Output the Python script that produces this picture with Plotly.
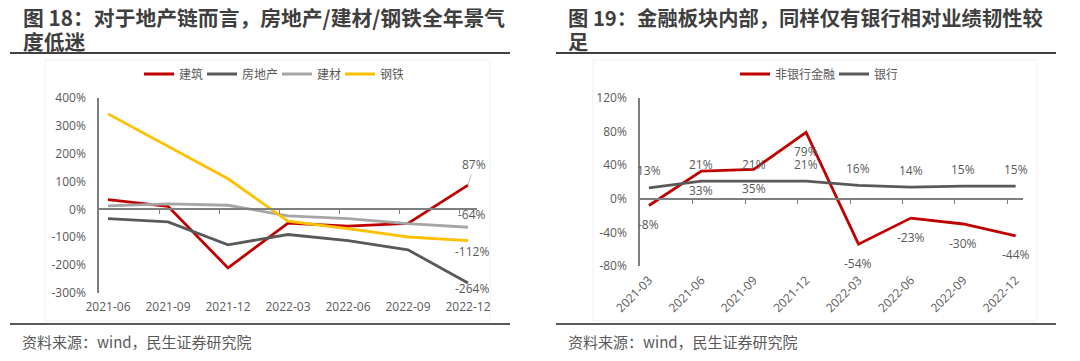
import plotly.graph_objects as go

W, H = 1080, 361

# ---------------- data ----------------
left_dates = ["2021-06", "2021-09", "2021-12", "2022-03", "2022-06", "2022-09", "2022-12"]
jianzhu = [35, 11, -210, -49, -60, -50, 87]          # 建筑
fangdichan = [-33, -45, -127, -90, -112, -145, -264]  # 房地产
jiancai = [13, 20, 15, -23, -33, -51, -64]            # 建材
gangtie = [343, 226, 110, -42, -69, -99, -112]        # 钢铁
left_yticks = [400, 300, 200, 100, 0, -100, -200, -300]

right_dates = ["2021-03", "2021-06", "2021-09", "2021-12", "2022-03", "2022-06", "2022-09", "2022-12"]
feiyin = [-8, 33, 35, 79, -54, -23, -30, -44]   # 非银行金融
yinhang = [13, 21, 21, 21, 16, 14, 15, 15]      # 银行
right_yticks = [120, 80, 40, 0, -40, -80]

RED, DARK, LIGHT, YELLOW = "#C00000", "#595959", "#A6A6A6", "#FFC000"
TXT = "#595959"
FONT = "Open Sans, Noto Sans CJK SC, sans-serif"
CJK = "Noto Sans CJK SC, sans-serif"
LEG_FS = 12

def px(x):
    return x / W

def py(y):
    return 1 - y / H

lx = list(range(len(left_dates)))
rx = list(range(len(right_dates)))

L_xdom = [px(99), px(477)]
L_ydom = [py(293), py(98)]
R_xdom = [px(640), px(1023)]
R_ydom = [py(266), py(98)]
L_xr = [-0.15, len(lx) - 1 + 0.15]
R_xr = [-0.17, len(rx) - 1 + 0.14]
L_yr = [min(left_yticks), max(left_yticks)]
R_yr = [min(right_yticks), max(right_yticks)]

fig = go.Figure()
lw = 2.8
for name, vals, col in [("建筑", jianzhu, RED), ("房地产", fangdichan, DARK),
                        ("建材", jiancai, LIGHT), ("钢铁", gangtie, YELLOW)]:
    fig.add_trace(go.Scatter(x=lx, y=vals, mode="lines", name=name,
                             line=dict(color=col, width=lw), xaxis="x", yaxis="y",
                             legend="legend", legendwidth=LEG_FS * len(name) - 6,
                             hoverinfo="skip"))
for name, vals, col in [("非银行金融", feiyin, RED), ("银行", yinhang, DARK)]:
    fig.add_trace(go.Scatter(x=rx, y=vals, mode="lines", name=name,
                             line=dict(color=col, width=lw), xaxis="x2", yaxis="y2",
                             legend="legend2", legendwidth=LEG_FS * len(name) - 6,
                             hoverinfo="skip"))
# dummy traces to render zero-line tick axes
fig.add_trace(go.Scatter(x=[None], y=[None], xaxis="x3", yaxis="y", showlegend=False, hoverinfo="skip"))
fig.add_trace(go.Scatter(x=[None], y=[None], xaxis="x4", yaxis="y2", showlegend=False, hoverinfo="skip"))

def zero_pos(dom, yr):
    return dom[0] + (0 - yr[0]) / (yr[1] - yr[0]) * (dom[1] - dom[0])

tickfont = dict(family=FONT, size=12, color=TXT)
axcol = "#7F7F7F"

fig.update_layout(
    width=W, height=H, margin=dict(l=0, r=0, t=0, b=0, autoexpand=False),
    paper_bgcolor="white", plot_bgcolor="white",
    font=dict(family=FONT, color=TXT),
    xaxis=dict(domain=L_xdom, range=L_xr, tickvals=lx, ticktext=left_dates, showgrid=False,
               zeroline=False, showline=False, ticks="", tickfont=tickfont, ticklabelstandoff=5,
               anchor="y", automargin=False),
    yaxis=dict(domain=L_ydom, range=L_yr, tickvals=left_yticks,
               ticktext=[f"{v}%" for v in left_yticks], showgrid=False, zeroline=False,
               showline=True, linecolor=axcol, linewidth=1.5, ticks="", tickfont=tickfont,
               ticklabelstandoff=9, anchor="x", automargin=False),
    xaxis3=dict(overlaying="x", anchor="free", position=zero_pos(L_ydom, L_yr), range=L_xr,
                tickvals=[i + 0.85 for i in lx[:-1]], showticklabels=False, ticks="outside",
                ticklen=4, tickcolor=axcol, tickwidth=1.2, showline=True, linecolor=axcol,
                linewidth=1.5, showgrid=False, zeroline=False, automargin=False),
    xaxis2=dict(domain=R_xdom, range=R_xr, tickvals=rx, ticktext=right_dates, showgrid=False,
                zeroline=False, showline=False, ticks="", tickangle=-45, tickfont=tickfont,
                ticklabelstandoff=4, anchor="y2", automargin=False),
    yaxis2=dict(domain=R_ydom, range=R_yr, tickvals=right_yticks,
                ticktext=[f"{v}%" for v in right_yticks], showgrid=False, zeroline=False,
                showline=True, linecolor=axcol, linewidth=1.5, ticks="", tickfont=tickfont,
                ticklabelstandoff=9, anchor="x2", automargin=False),
    xaxis4=dict(overlaying="x2", anchor="free", position=zero_pos(R_ydom, R_yr), range=R_xr,
                tickvals=[i + 0.84 for i in rx[:-1]], showticklabels=False, ticks="outside",
                ticklen=4, tickcolor=axcol, tickwidth=1.2, showline=True, linecolor=axcol,
                linewidth=1.5, showgrid=False, zeroline=False, automargin=False),
    legend=dict(orientation="h", x=px(271), y=py(74), xanchor="center", yanchor="middle",
                font=dict(family=CJK, size=LEG_FS, color=TXT), bgcolor="rgba(0,0,0,0)",
                itemwidth=30),
    legend2=dict(orientation="h", x=px(816), y=py(74), xanchor="center", yanchor="middle",
                 font=dict(family=CJK, size=LEG_FS, color=TXT), bgcolor="rgba(0,0,0,0)",
                 itemwidth=30),
    showlegend=True,
)

ann = []
lblfont = dict(family=FONT, size=12, color=TXT)
last = len(lx) - 1
ann.append(dict(x=lx[last], y=jianzhu[last], xref="x", yref="y", text=f"{jianzhu[last]}%",
                showarrow=True, arrowhead=0, arrowwidth=1, arrowcolor="#BFBFBF",
                ax=6, ay=-21, font=lblfont))
for vals, ys in [(jiancai, 13), (gangtie, -11), (fangdichan, -6)]:
    ann.append(dict(x=lx[last], y=vals[last], xref="x", yref="y", text=f"{vals[last]}%",
                    showarrow=False, xshift=4, yshift=ys, font=lblfont))
for i in rx:
    ann.append(dict(x=i, y=yinhang[i], xref="x2", yref="y2", text=f"{yinhang[i]}%",
                    showarrow=False, yshift=17, font=lblfont))
    ann.append(dict(x=i, y=feiyin[i], xref="x2", yref="y2", text=f"{feiyin[i]}%",
                    showarrow=False, yshift=-19, font=lblfont))

tfontL = dict(family=CJK, size=20.8, color="#3F3F3F")
tfontR = dict(family=CJK, size=20.3, color="#3F3F3F")
ann += [
    dict(x=px(21), y=py(17.5), xref="paper", yref="paper", xanchor="left", yanchor="middle",
         text="<b>图 18：对于地产链而言，房地产/建材/钢铁全年景气</b>", showarrow=False, font=tfontL),
    dict(x=px(21), y=py(41), xref="paper", yref="paper", xanchor="left", yanchor="middle",
         text="<b>度低迷</b>", showarrow=False, font=tfontL),
    dict(x=px(566), y=py(17.5), xref="paper", yref="paper", xanchor="left", yanchor="middle",
         text="<b>图 19：金融板块内部，同样仅有银行相对业绩韧性较</b>", showarrow=False, font=tfontR),
    dict(x=px(566), y=py(41), xref="paper", yref="paper", xanchor="left", yanchor="middle",
         text="<b>足</b>", showarrow=False, font=tfontR),
]
ffont = dict(family=CJK, size=15, color=TXT)
ann += [
    dict(x=px(20), y=py(341), xref="paper", yref="paper", xanchor="left", yanchor="middle",
         text="资料来源：wind，民生证券研究院", showarrow=False, font=ffont),
    dict(x=px(566), y=py(341), xref="paper", yref="paper", xanchor="left", yanchor="middle",
         text="资料来源：wind，民生证券研究院", showarrow=False, font=ffont),
]
fig.update_layout(annotations=ann)

shapes = []
for x0, x1 in [(10, 510), (556, 1056)]:
    shapes.append(dict(type="line", xref="paper", yref="paper", x0=px(x0), x1=px(x1),
                       y0=py(53), y1=py(53), line=dict(color="#404040", width=2)))
    shapes.append(dict(type="line", xref="paper", yref="paper", x0=px(x0), x1=px(x1),
                       y0=py(324), y1=py(324), line=dict(color="#595959", width=2)))
for x0, x1 in [(45, 490), (593, 1037)]:
    shapes.append(dict(type="rect", xref="paper", yref="paper", x0=px(x0), x1=px(x1),
                       y0=py(321), y1=py(60), line=dict(color="#F0F0F0", width=1),
                       layer="below"))
fig.update_layout(shapes=shapes)

fig.write_html("out.html", config={"displayModeBar": False},
               post_script="document.body.style.margin='0';document.body.style.overflow='hidden';")
